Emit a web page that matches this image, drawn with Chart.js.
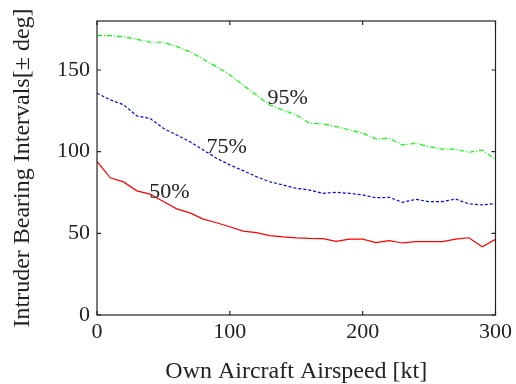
<!DOCTYPE html>
<html>
<head>
<meta charset="utf-8">
<script src="https://cdn.jsdelivr.net/npm/chart.js@4.4.0/dist/chart.umd.min.js"></script>
<style>
html, body { margin: 0; padding: 0; background: #fff; }
#wrap { width: 516px; height: 384px; }
</style>
</head>
<body>
<div id="wrap"><canvas id="myChart" width="516" height="384"></canvas></div>
<script>
// airspeed in kt, intervals in +/- deg
const airspeed = [0, 10, 20, 30, 40, 50, 60, 70, 80, 90, 100, 110, 120, 130, 140, 150,
    160, 170, 180, 190, 200, 210, 220, 230, 240, 250, 260, 270, 280, 290, 300];
const p50 = [94, 84, 81.5, 76, 74, 69.5, 65, 62.5, 58.7, 56.5, 54, 51.4, 50.4, 48.6, 47.8, 47.2,
    46.9, 46.8, 45.1, 46.5, 46.5, 44.3, 45.5, 44.1, 44.9, 44.9, 44.9, 46.5, 47.3, 41.8, 46.3];
const p75 = [135.8, 131.7, 128.7, 121.9, 120.3, 114.3, 110.2, 106.1, 101, 96, 91.9, 88.4, 84.7, 81.6, 79.6, 77.6,
    76.5, 74.5, 75.1, 74.5, 73.5, 71.8, 72, 69, 70.8, 69.4, 69.4, 71, 68, 67.4, 68.2];
const p95 = [171, 171, 170.4, 168.8, 167, 167, 164.3, 161.2, 156.6, 152, 147, 140.8, 134.7, 128.6, 125.5, 122.5,
    117.4, 117, 115.3, 113.3, 111.3, 107.8, 108.2, 104.1, 105.1, 103.1, 101.5, 101.5, 99.6, 101, 95.3];
const curveLabels = ["50%", "75%", "95%"];
const labelSpeed = [54.6, 97.6, 143.6];
const labelValue = [75.3, 102.9, 132.9];

const serif = '"Liberation Serif", "DejaVu Serif", serif';
const ctx = document.getElementById('myChart');

function toPoints(vals) {
    return airspeed.map((a, i) => ({ x: a, y: vals[i] }));
}

// frame, inward ticks and curve labels
const boxPlugin = {
    id: 'box',
    afterDatasetsDraw(chart) {
        const c = chart.ctx;
        const a = chart.chartArea;
        const xs = chart.scales.x;
        const ys = chart.scales.y;
        c.save();
        c.strokeStyle = '#222';
        c.lineWidth = 1.2;
        c.strokeRect(a.left, a.top, a.right - a.left, a.bottom - a.top);
        c.beginPath();
        xs.ticks.forEach(t => {
            const px = xs.getPixelForValue(t.value);
            c.moveTo(px, a.bottom); c.lineTo(px, a.bottom - 4);
            c.moveTo(px, a.top); c.lineTo(px, a.top + 4);
        });
        ys.ticks.forEach(t => {
            const py = ys.getPixelForValue(t.value);
            c.moveTo(a.left, py); c.lineTo(a.left + 4, py);
            c.moveTo(a.right, py); c.lineTo(a.right - 4, py);
        });
        c.stroke();
        c.fillStyle = '#222';
        c.font = '22px ' + serif;
        c.textAlign = 'center';
        c.textBaseline = 'middle';
        curveLabels.forEach((s, i) => {
            c.fillText(s, xs.getPixelForValue(labelSpeed[i]), ys.getPixelForValue(labelValue[i]));
        });
        c.restore();
    }
};

new Chart(ctx, {
    type: 'line',
    plugins: [boxPlugin],
    data: {
        datasets: [{
            data: toPoints(p50),
            borderColor: '#ff0000',
            borderWidth: 1.2,
            pointRadius: 0,
            tension: 0
        }, {
            data: toPoints(p75),
            borderColor: '#0000ff',
            borderWidth: 1.2,
            borderDash: [3, 2],
            pointRadius: 0,
            tension: 0
        }, {
            data: toPoints(p95),
            borderColor: '#00ff00',
            borderWidth: 1.2,
            borderDash: [5, 2, 1, 2],
            pointRadius: 0,
            tension: 0
        }]
    },
    options: {
        responsive: false,
        animation: false,
        layout: { padding: { top: 21, right: 18, left: 0, bottom: 0 } },
        plugins: {
            legend: { display: false },
            tooltip: { enabled: false }
        },
        scales: {
            x: {
                type: 'linear',
                min: 0,
                max: 300,
                afterFit: s => { s.height = 69; },
                grid: { display: false, drawTicks: false },
                border: { display: false },
                ticks: {
                    stepSize: 100,
                    padding: 4,
                    color: '#222',
                    maxRotation: 0,
                    font: { family: serif, size: 22 }
                },
                title: {
                    display: true,
                    text: 'Own Aircraft Airspeed [kt]',
                    color: '#222',
                    padding: { top: 0, bottom: 0 },
                    font: { family: serif, size: 24, lineHeight: 1 }
                }
            },
            y: {
                min: 0,
                max: 180,
                afterFit: s => { s.width = 97; },
                grid: { display: false, drawTicks: false },
                border: { display: false },
                ticks: {
                    stepSize: 50,
                    includeBounds: false,
                    padding: 7,
                    color: '#222',
                    font: { family: serif, size: 22 }
                },
                title: {
                    display: true,
                    text: 'Intruder Bearing Intervals[± deg]',
                    color: '#222',
                    padding: { top: 11, bottom: 0 },
                    font: { family: serif, size: 24, lineHeight: 1 }
                }
            }
        }
    }
});
</script>
</body>
</html>
